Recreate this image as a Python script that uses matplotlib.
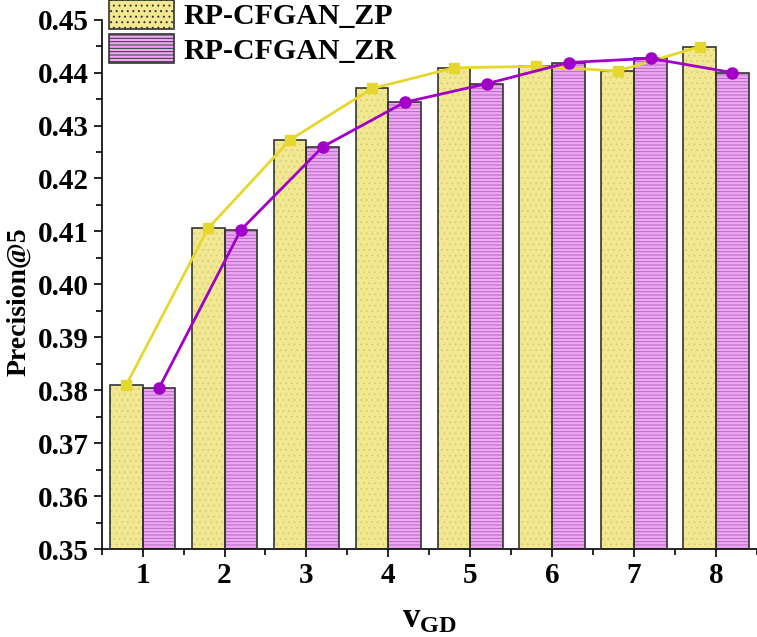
import matplotlib
matplotlib.use("Agg")
import matplotlib.pyplot as plt
import numpy as np
from matplotlib.ticker import MultipleLocator, FormatStrFormatter
from matplotlib.patches import Patch

categories = [1, 2, 3, 4, 5, 6, 7, 8]
zp_values = [0.3810, 0.4106, 0.4273, 0.4370, 0.4409, 0.4412, 0.4403, 0.4449]
zr_values = [0.3804, 0.4103, 0.4260, 0.4344, 0.4379, 0.4419, 0.4427, 0.4400]
series_names = ["RP-CFGAN_ZP", "RP-CFGAN_ZR"]

plt.rcParams['font.family'] = ['Liberation Serif', 'DejaVu Serif']
plt.rcParams['font.weight'] = 'bold'
plt.rcParams['mathtext.fontset'] = 'custom'
plt.rcParams['mathtext.rm'] = 'Liberation Serif:bold'
plt.rcParams['mathtext.bf'] = 'Liberation Serif:bold'
plt.rcParams['mathtext.it'] = 'Liberation Serif:bold'
plt.rcParams['hatch.linewidth'] = 0.7

fig = plt.figure(figsize=(7.57, 6.37), dpi=100)
ax = fig.add_axes([0.1343, 0.1381, 0.8657, 0.8310])

x = np.array(categories, dtype=float)
w = 0.4
yellow_face = '#F1E891'
yellow_hatch = '#D9CF7A'
purple_face = '#EDA8F3'
purple_hatch = '#B668C0'
edge = '#333333'

ax.bar(x - w/2, zp_values, width=w, color=yellow_face, edgecolor=yellow_hatch,
       hatch='...', linewidth=0, zorder=2)
ax.bar(x + w/2, zr_values, width=w, color=purple_face, edgecolor=purple_hatch,
       hatch='-----', linewidth=0, zorder=2)
ax.bar(x - w/2, zp_values, width=w, fill=False, edgecolor=edge, linewidth=1.2, zorder=3)
ax.bar(x + w/2, zr_values, width=w, fill=False, edgecolor=edge, linewidth=1.2, zorder=3)

ax.plot(x - w/2, zp_values, color='#E6D72C', lw=2.0, marker='s', ms=7, zorder=4)
ax.plot(x + w/2, zr_values, color='#A000C8', lw=2.0, marker='o', ms=8, zorder=4)

ax.set_xlim(0.5, 8.5)
ax.set_ylim(0.35, 0.45)
ax.set_xticks(categories)
ax.set_xticklabels([str(c) for c in categories])
ax.xaxis.set_minor_locator(MultipleLocator(0.5))
ax.yaxis.set_major_locator(MultipleLocator(0.01))
ax.yaxis.set_minor_locator(MultipleLocator(0.005))
ax.yaxis.set_major_formatter(FormatStrFormatter('%.2f'))

for s in ['top', 'right']:
    ax.spines[s].set_visible(False)
for s in ['left', 'bottom']:
    ax.spines[s].set_linewidth(1.2)

ax.tick_params(axis='both', which='major', direction='out', length=6, width=1.2,
               labelsize=21)
ax.tick_params(axis='both', which='minor', direction='out', length=4, width=1.2)
for lab in ax.get_xticklabels() + ax.get_yticklabels():
    lab.set_fontweight('bold')

ax.set_ylabel('Precision@5', fontsize=20, fontweight='bold')
ax.yaxis.set_label_coords(-0.107, 0.467)
ax.set_xlabel(r'$\mathbf{v}_{\mathbf{GD}}$', fontsize=25, labelpad=10)

handles = [Patch(facecolor=yellow_face, edgecolor=edge, hatch='...', linewidth=1.2),
           Patch(facecolor=purple_face, edgecolor=edge, hatch='-----', linewidth=1.2)]
ax.legend(handles, series_names, loc='upper left', bbox_to_anchor=(0.1435, 1.0),
          bbox_transform=fig.transFigure, frameon=False,
          prop={'family': 'Liberation Serif', 'weight': 'bold', 'size': 21.5},
          handlelength=2.2, handleheight=1.1, handletextpad=0.3,
          labelspacing=0.12, borderpad=0.0, borderaxespad=0.0)

fig.savefig('out.png', dpi=100)
